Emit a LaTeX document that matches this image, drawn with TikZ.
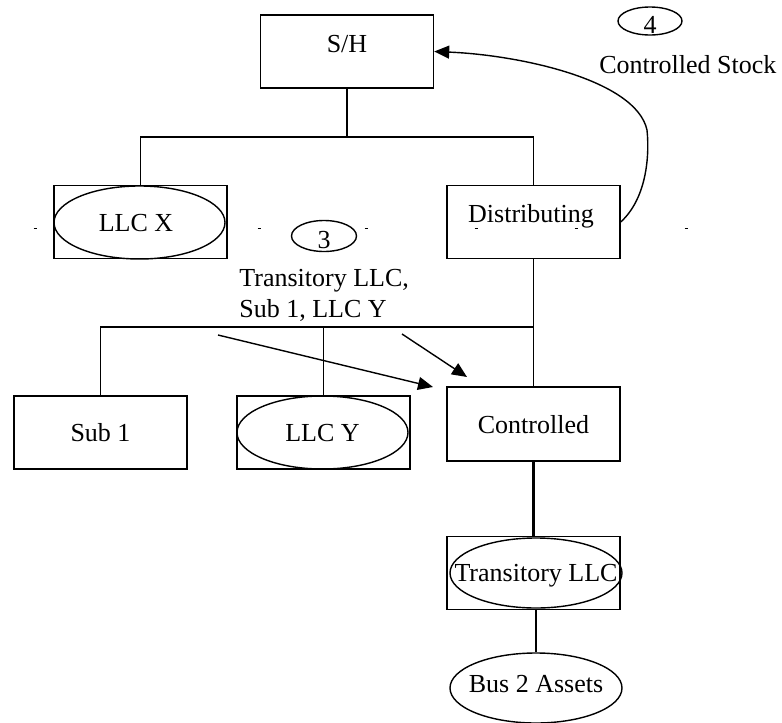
\documentclass[tikz,border=0pt]{standalone}
\usepackage{fontspec}
\setmainfont{Liberation Serif}
\usetikzlibrary{shapes.geometric,arrows.meta}
\begin{document}
\begin{tikzpicture}[x=0.5pt,y=-0.5pt,
  every node/.style={font=\fontsize{13}{15.5}\selectfont, text depth=0pt, inner sep=0pt},
  box/.style={draw, line width=0.7pt, rectangle, minimum width=86.5pt, minimum height=36.5pt},
  oval/.style={draw, line width=0.7pt, ellipse, minimum width=85.5pt, minimum height=36.5pt},
  wire/.style={line width=0.7pt},
  arr/.style={wire, -{Triangle[length=7.5pt,width=6.5pt]}},
  tick/.style={line width=0.4pt}]
\useasboundingbox (0,0) rectangle (782,723);

% top level
\node[box] (sh) at (347,51.5) {};
\node[anchor=base] (shtext) at (347,52) {S/H};

% second level
\node[box] (llcx) at (140.5,222) {};
\node[oval, label={[xshift=-1.75pt]center:{LLC X}}] (llcxe) at (139.5,222.5) {};
\node[box] (dist) at (533.5,222) {};
\node[anchor=base] (disttext) at (531,222) {Distributing};

% third level
\node[box] (sub1) at (100.5,432.5) {Sub 1};
\node[box] (llcy) at (323.5,432.5) {};
\node[oval, label=center:{LLC Y}] (llcye) at (322.5,432.5) {};
\node[box, minimum height=37pt] (ctrl) at (533.5,424) {Controlled};

% lower chain
\node[box] (trans) at (533.5,573) {};
\node[oval, minimum width=86pt, minimum height=35pt, label=center:{Transitory LLC}] (transe) at (536,573) {};
\node[oval, minimum width=86pt, minimum height=35pt, label={[yshift=2pt]center:{Bus 2 Assets}}] (bus) at (536,688) {};

% step markers and notes
\node[oval, minimum width=32.5pt, minimum height=15.5pt, label={[yshift=-1.75pt]center:3}] (c3) at (324,236) {};
\node[anchor=base west, align=left] (note3) at (239,317) {Transitory LLC,\\Sub 1, LLC Y};
\node[oval, minimum width=32pt, minimum height=14pt, label={[yshift=-2pt]center:4}] (c4) at (650,21) {};
\node[anchor=base west] (note4) at (599,73) {Controlled Stock};

% ownership lines
\coordinate (j1) at (347,137);
\draw[wire] (sh.south) -- (j1);
\draw[wire] (llcx.north) |- (j1) -| (dist.north);
\coordinate (j2) at (533.5,327);
\draw[wire] (dist.south) -- (ctrl.north);
\draw[wire] (sub1.north) |- (j2);
\draw[wire] (llcy.north) -- (llcy.north |- j2);
\draw[wire, line width=1.2pt] (ctrl.south) -- (trans.north);
\draw[wire] (bus.north |- trans.south) -- (bus.north);

% transfer arrows
\coordinate (a1s) at (218,335);
\coordinate (a1e) at (433,387);
\coordinate (a2s) at (402,334);
\coordinate (a2e) at (467,377);
\draw[arr] (a1s) -- (a1e);
\draw[arr] (a2s) -- (a2e);
\draw[arr] (dist.east) .. controls (645,200) and (650,160) .. (647,130)
  .. controls (636,80) and (520,55) .. (sh.east);

% small tick marks
\foreach \x in {35,259,366,476,576,686}
  \draw[tick] (\x-1.5,228) -- (\x+1.5,228);
\end{tikzpicture}
\end{document}
